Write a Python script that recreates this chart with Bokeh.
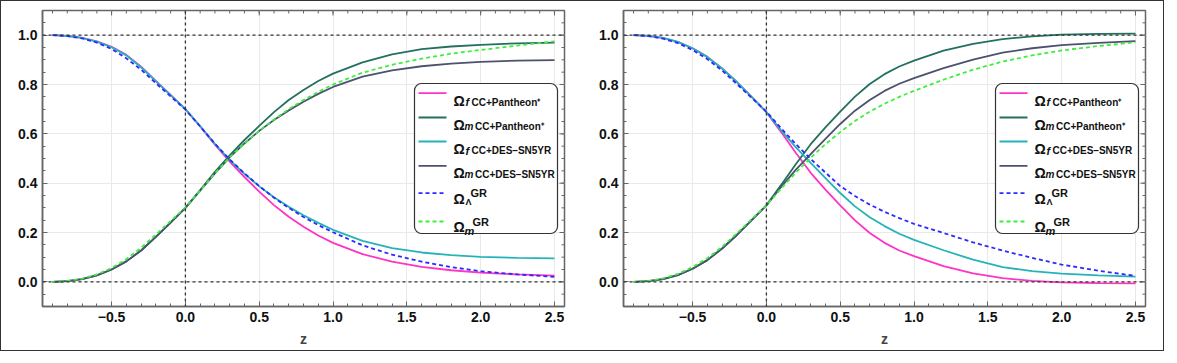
from bokeh.plotting import figure
from bokeh.layouts import row
from bokeh.models import Range1d, FixedTicker, Span, CustomJSTickFormatter
from bokeh.core.properties import value
from bokeh.embed import file_html
from bokeh.resources import INLINE

# ---------------- data ----------------
z = [-0.9, -0.8, -0.7, -0.6, -0.5, -0.4, -0.3, -0.2, -0.1, 0.0, 0.1, 0.2, 0.3, 0.4,
     0.5, 0.6, 0.7, 0.8, 0.9, 1.0, 1.2, 1.4, 1.6, 1.8, 2.0, 2.25, 2.5]

# left panel
left_f_pantheon = [1.000, 0.997, 0.989, 0.975, 0.953, 0.920, 0.872, 0.815, 0.758, 0.700, 0.630, 0.556, 0.487, 0.425,
                   0.366, 0.311, 0.264, 0.223, 0.188, 0.158, 0.112, 0.082, 0.061, 0.047, 0.037, 0.030, 0.025]
left_m_pantheon = [0.000, 0.003, 0.011, 0.026, 0.050, 0.083, 0.127, 0.182, 0.240, 0.300, 0.372, 0.446, 0.513, 0.575,
                   0.632, 0.688, 0.737, 0.778, 0.814, 0.844, 0.890, 0.922, 0.943, 0.954, 0.961, 0.967, 0.970]
left_f_des = [1.000, 0.997, 0.989, 0.974, 0.951, 0.918, 0.870, 0.813, 0.757, 0.700, 0.631, 0.559, 0.494, 0.438,
              0.387, 0.343, 0.304, 0.270, 0.239, 0.211, 0.166, 0.137, 0.119, 0.108, 0.101, 0.097, 0.095]
left_m_des = [0.000, 0.003, 0.011, 0.026, 0.050, 0.083, 0.127, 0.182, 0.240, 0.300, 0.370, 0.440, 0.505, 0.561,
              0.612, 0.656, 0.695, 0.730, 0.762, 0.790, 0.832, 0.857, 0.874, 0.885, 0.892, 0.897, 0.899]
left_L_gr = [1.000, 0.996, 0.987, 0.970, 0.944, 0.906, 0.860, 0.805, 0.752, 0.698, 0.630, 0.560, 0.496, 0.440,
             0.388, 0.341, 0.300, 0.263, 0.230, 0.201, 0.148, 0.110, 0.082, 0.060, 0.043, 0.030, 0.020]
left_m_gr = [0.000, 0.004, 0.013, 0.030, 0.056, 0.092, 0.138, 0.192, 0.247, 0.302, 0.370, 0.440, 0.505, 0.560,
             0.612, 0.658, 0.700, 0.737, 0.770, 0.800, 0.848, 0.880, 0.905, 0.925, 0.940, 0.958, 0.975]

# right panel
right_f_pantheon = [1.000, 0.997, 0.989, 0.973, 0.947, 0.912, 0.865, 0.810, 0.750, 0.688, 0.607, 0.522, 0.442, 0.374,
                    0.310, 0.249, 0.198, 0.158, 0.127, 0.104, 0.064, 0.034, 0.015, 0.004, -0.002, -0.005, -0.006]
right_m_pantheon = [0.000, 0.003, 0.011, 0.027, 0.053, 0.088, 0.135, 0.190, 0.250, 0.310, 0.393, 0.478, 0.558, 0.626,
                    0.690, 0.751, 0.802, 0.842, 0.873, 0.897, 0.937, 0.965, 0.984, 0.995, 1.002, 1.005, 1.006]
right_f_des = [1.000, 0.997, 0.989, 0.973, 0.947, 0.912, 0.865, 0.810, 0.750, 0.688, 0.614, 0.545, 0.482, 0.420,
               0.360, 0.306, 0.262, 0.226, 0.195, 0.170, 0.128, 0.090, 0.060, 0.043, 0.033, 0.026, 0.021]
right_m_des = [0.000, 0.003, 0.011, 0.027, 0.053, 0.088, 0.135, 0.190, 0.250, 0.310, 0.385, 0.455, 0.518, 0.580,
               0.640, 0.694, 0.737, 0.774, 0.803, 0.826, 0.866, 0.901, 0.929, 0.947, 0.960, 0.969, 0.976]
right_L_gr = [1.000, 0.996, 0.986, 0.968, 0.940, 0.903, 0.857, 0.802, 0.746, 0.690, 0.622, 0.558, 0.498, 0.443,
              0.388, 0.348, 0.313, 0.284, 0.258, 0.235, 0.198, 0.160, 0.127, 0.097, 0.070, 0.045, 0.024]
right_m_gr = [0.000, 0.004, 0.014, 0.032, 0.060, 0.096, 0.142, 0.197, 0.254, 0.310, 0.378, 0.443, 0.503, 0.558,
              0.607, 0.652, 0.690, 0.722, 0.750, 0.774, 0.820, 0.860, 0.893, 0.918, 0.938, 0.956, 0.971]

x_ticks = [-0.5, 0.0, 0.5, 1.0, 1.5, 2.0, 2.5]
x_minor = [round(-0.9 + 0.1 * i, 2) for i in range(35)]
y_ticks = [0.0, 0.2, 0.4, 0.6, 0.8, 1.0]
y_minor = [round(-0.1 + 0.05 * i, 3) for i in range(25)]

# ---------------- styles ----------------
COLORS = ["#ff33c4", "#24705f", "#25b3b9", "#4d5170", "#2b2bff", "#3cef3c"]
DASHES = ["solid", "solid", "solid", "solid", "4 3", "4 3"]
FONT = "Liberation Sans"
X0, X1 = -0.968, 2.568
Y0, Y1 = -0.1, 1.1
FW, FH = 522, 296
TICK_C = "#666666"

# legend entries: (subscript, rest text, rest kind)
LEG = [("f", "CC+Pantheon\u207a", "sub"),
       ("m", "CC+Pantheon\u207a", "sub"),
       ("f", "CC+DES\u2013SN5YR", "sub"),
       ("m", "CC+DES\u2013SN5YR", "sub"),
       ("\u039b", "GR", "sup"),
       ("m", "GR", "sup")]


def style_axis(ax, ticks, minor):
    ax.ticker = FixedTicker(ticks=ticks, minor_ticks=minor)
    ax.axis_line_color = TICK_C
    ax.axis_line_width = 1.5
    ax.major_tick_line_color = TICK_C
    ax.minor_tick_line_color = TICK_C
    ax.major_tick_in = 5
    ax.major_tick_out = 0
    ax.minor_tick_in = 3
    ax.minor_tick_out = 0
    ax.major_label_text_font = FONT
    ax.major_label_text_font_style = "bold"
    ax.major_label_text_font_size = "14px"
    ax.major_label_text_color = "#111111"
    ax.major_label_standoff = 5
    ax.formatter = CustomJSTickFormatter(code="return tick.toFixed(1).replace('-', '\\u2212');")


def make_panel(series):
    p = figure(frame_width=FW, frame_height=FH, x_range=Range1d(X0, X1), y_range=Range1d(Y0, Y1),
               output_backend="svg", toolbar_location=None,
               min_border_left=41, min_border_right=18, min_border_top=9, min_border_bottom=44,
               background_fill_color="white", border_fill_color="white")
    p.outline_line_color = TICK_C
    p.outline_line_width = 1.5
    style_axis(p.xaxis[0], x_ticks, x_minor)
    style_axis(p.yaxis[0], y_ticks, y_minor)
    p.xaxis.axis_label = "z"
    p.xaxis.axis_label_text_font = FONT
    p.xaxis.axis_label_text_font_style = "bold"
    p.xaxis.axis_label_text_font_size = "14px"
    p.xaxis.axis_label_standoff = 6
    p.xgrid.ticker = FixedTicker(ticks=x_ticks)
    p.ygrid.ticker = FixedTicker(ticks=y_ticks)
    p.xgrid.grid_line_color = "#e9e9e9"
    p.ygrid.grid_line_color = "#e9e9e9"

    sx = FW / (X1 - X0)
    sy = FH / (Y1 - Y0)

    # ticks on the top and right frame edges (pointing inward)
    for ticks, ln in [(x_ticks, 5), (x_minor, 3)]:
        p.segment(x0=ticks, y0=[Y1] * len(ticks), x1=ticks, y1=[Y1 - ln / sy] * len(ticks),
                  line_color=TICK_C, line_width=1)
    for ticks, ln in [(y_ticks, 5), (y_minor, 3)]:
        p.segment(x0=[X1] * len(ticks), y0=ticks, x1=[X1 - ln / sx] * len(ticks), y1=ticks,
                  line_color=TICK_C, line_width=1)

    for loc, dim in [(0.0, "height"), (0.0, "width"), (1.0, "width")]:
        p.add_layout(Span(location=loc, dimension=dim, line_color="#333333", line_width=1.3, line_dash="3 3"))

    for ys, c, d in zip(series, COLORS, DASHES):
        p.line(z, ys, line_color=c, line_width=1.8, line_dash=d)

    # legend
    def X(px):
        return X0 + px / sx

    def Y(py):
        return Y1 - py / sy

    def txt(px, py, s, style, size):
        p.text(x=[X(px)], y=[Y(py)], text=[s], text_font=value(FONT), text_font_style=style,
               text_font_size=size, text_baseline="alphabetic", text_align="left", text_color="#111111")

    bw, bh = 143, 150
    bl = FW - 7 - bw
    bt = (FH - bh) / 2
    p.quad(left=X(bl), right=X(bl + bw), top=Y(bt), bottom=Y(bt + bh), border_radius=7,
           fill_color="white", line_color="#333333", line_width=1.2)
    samp_y = [9.7, 34, 58, 82.3, 109.7, 138]
    for i, ((sub, rest, kind), c, d) in enumerate(zip(LEG, COLORS, DASHES)):
        yy = bt + samp_y[i]
        p.segment(x0=[X(bl + 4)], y0=[Y(yy)], x1=[X(bl + 32)], y1=[Y(yy)],
                  line_color=c, line_width=1.8, line_dash=d)
        if kind == "sub":
            txt(bl + 39, yy + 7.5, "\u03a9", "bold", "14px")
            if sub == "f":
                txt(bl + 51, yy + 9, sub, "bold italic", "11px")
                txt(bl + 57, yy + 9, rest, "bold", "10px")
            else:
                txt(bl + 50, yy + 9, sub, "bold italic", "10px")
                txt(bl + 60.5, yy + 9, rest, "bold", "10px")
        else:
            txt(bl + 39, yy + 5.5, "\u03a9", "bold", "14px")
            if sub == "m":
                txt(bl + 50, yy + 9.5, sub, "bold italic", "11px")
                txt(bl + 58, yy + 0.5, rest, "bold", "11px")
            else:
                txt(bl + 51, yy + 9, sub, "bold", "9px")
                txt(bl + 56, yy + 0, rest, "bold", "11px")
    return p


p1 = make_panel([left_f_pantheon, left_m_pantheon, left_f_des, left_m_des, left_L_gr, left_m_gr])
p2 = make_panel([right_f_pantheon, right_m_pantheon, right_f_des, right_m_des, right_L_gr, right_m_gr])

layout = row(p1, p2, styles={"border": "1px solid #333333", "background-color": "white"})

open("out.html", "w").write(file_html(layout, INLINE))
